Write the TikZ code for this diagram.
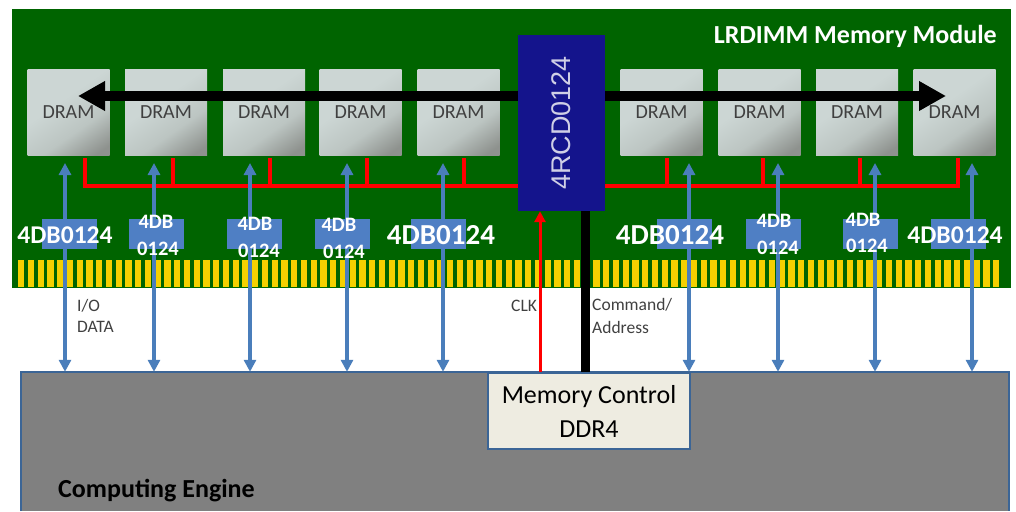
\documentclass[tikz,border=0pt]{standalone}
\usepackage{fontspec}
\setmainfont{Carlito}
\newfontfamily\rcdfont{Liberation Sans}
\usetikzlibrary{arrows.meta}
\definecolor{pcbgreen}{HTML}{006400}
\definecolor{contactgold}{HTML}{F5D000}
\definecolor{linkblue}{HTML}{4A7EBB}
\definecolor{bufferblue}{HTML}{4F7FC4}
\definecolor{rcdblue}{HTML}{14148C}
\definecolor{rcdtext}{HTML}{CFCFE6}
\definecolor{controlbeige}{HTML}{EEECE1}
\definecolor{dramlight}{HTML}{CCD6D4}
\definecolor{drammid}{HTML}{BCC5C2}
\definecolor{dramdark}{HTML}{8E928E}
\pgfdeclareverticalshading{dramshade}{100bp}{color(0bp)=(dramdark); color(20bp)=(dramdark); color(38bp)=(drammid); color(58bp)=(dramlight); color(100bp)=(dramlight)}
\begin{document}
\begin{tikzpicture}[x=1pt, y=-1pt,
    dram/.style={minimum width=82pt, minimum height=86pt, inner sep=0pt, shading=dramshade, shading angle=35, text=black!75, font=\fontsize{20}{20}\selectfont},
    dbox/.style={fill=bufferblue, minimum width=55pt, minimum height=30pt, inner sep=0pt},
    dbname/.style={text=white, inner sep=0pt, font=\fontsize{#1}{#1}\selectfont\bfseries},
    datalink/.style={draw=linkblue, line width=3.5pt, -{Triangle[length=12pt, width=12pt]}},
    cmdline/.style={draw=red, line width=4pt},
    note/.style={text=black!75, inner sep=0pt, anchor=west, font=\fontsize{17.5}{17.5}\selectfont}]
    \useasboundingbox (0, 0) rectangle (1016, 511);

    % module
    \fill [pcbgreen] (12, 9) rectangle (1011, 288);
    \foreach \x in {18, 27.75, ..., 994} {
        \fill [contactgold] (\x, 260) rectangle (\x + 6.4, 287);
    }
    \node at (997, 36) [text=white, inner sep=0pt, anchor=east, font=\fontsize{26}{26}\selectfont\bfseries] {LRDIMM Memory Module};

    % host
    \node (engine) at (515, 441.5) [fill=black!50, minimum width=988pt, minimum height=139pt, inner sep=0pt] {};
    \draw [linkblue!80!black, line width=1.5pt] (engine.south west) -- (engine.north west) -- (engine.north east) -- (engine.south east);
    \node (control) at (589, 411) [draw=linkblue!80!black, line width=1.5pt, fill=controlbeige, minimum width=202pt, minimum height=76pt, align=center, font=\fontsize{26}{34}\selectfont] {Memory Control\\DDR4};
    \node at (58, 491) [inner sep=0pt, anchor=west, font=\fontsize{26}{26}\selectfont\bfseries] {Computing Engine};

    % register
    \node (rcd) at (561.5, 123) [fill=rcdblue, minimum width=87pt, minimum height=176pt, inner sep=0pt] {};
    \node at (rcd) [rotate=90, text=rcdtext, inner sep=0pt, font=\rcdfont\fontsize{27}{27}\selectfont] {4RCD0124};

    % dram
    \foreach \i/\x in {1/68.5, 2/166, 3/264, 4/360.5, 5/458.5, 6/661.5, 7/759.5, 8/857, 9/954.5} {
        \node (dram\i) at (\x, 112) [dram] {DRAM};
    }

    % command bus
    \coordinate (busl) at (85, 186);
    \coordinate (busr) at (958, 186);
    \draw [cmdline] (busl |- 0, 158) -- (busl) -- (rcd.west |- busl);
    \draw [cmdline] (busr |- 0, 158) -- (busr) -- (rcd.east |- busr);
    \foreach \x in {173, 270, 367, 464, 667, 763, 860} {
        \coordinate (stub) at (\x, 158);
        \draw [cmdline] (stub) -- (stub |- busl);
    }

    % broadcast
    \coordinate (tipl) at (78, 96);
    \coordinate (tipr) at (946, 96);
    \draw [line width=9.5pt, -{Triangle[length=27pt, width=28pt]}] (rcd.west |- tipl) -- (tipl);
    \draw [line width=9.5pt, -{Triangle[length=27pt, width=28pt]}] (rcd.east |- tipr) -- (tipr);

    % data buffers
    \foreach \i/\x/\bx in {1/65/69.5, 2/154/156.5, 3/250/254.5, 4/347/342.5, 5/443/438.5, 6/689/684.5, 7/778/773.5, 8/875/870, 9/972/958.5} {
        \node (db\i) at (\bx, 234) [dbox] {};
        \coordinate (up\i) at (\x, 163);
        \draw [datalink] (up\i |- db\i.north) -- (up\i);
        \draw [datalink] (up\i |- db\i.south) -- (up\i |- engine.north);
    }

    % buffer names
    \foreach \x/\s/\word in {65/25.6/4DB0124, 441/29/4DB0124, 670/29/4DB0124, 955/25.6/4DB0124} {
        \node at (\x, 235) [dbname=\s] {\word};
    }
    \foreach \x/\y in {156/222, 255/224, 339/225, 774/221, 863/220} {
        \node at (\x, \y) [dbname=20.5] {4DB};
    }
    \foreach \x/\y in {158/249, 259/251, 344/252, 778/248, 867/246} {
        \node at (\x, \y) [dbname=20.5] {0124};
    }

    % clock and command
    \coordinate (clk) at (540, 0);
    \coordinate (cmd) at (585, 0);
    \draw [draw=red, line width=3pt, -{Triangle[length=11pt, width=11pt]}] (clk |- control.north) -- (clk |- rcd.south);
    \draw [line width=9pt] (cmd |- rcd.south) -- (cmd |- control.north);

    \node at (77, 306) [note] {I/O};
    \node at (77, 327) [note] {DATA};
    \node at (511, 306) [note] {CLK};
    \node at (592, 305) [note] {Command/};
    \node at (592, 327) [note] {Address};
\end{tikzpicture}
\end{document}
